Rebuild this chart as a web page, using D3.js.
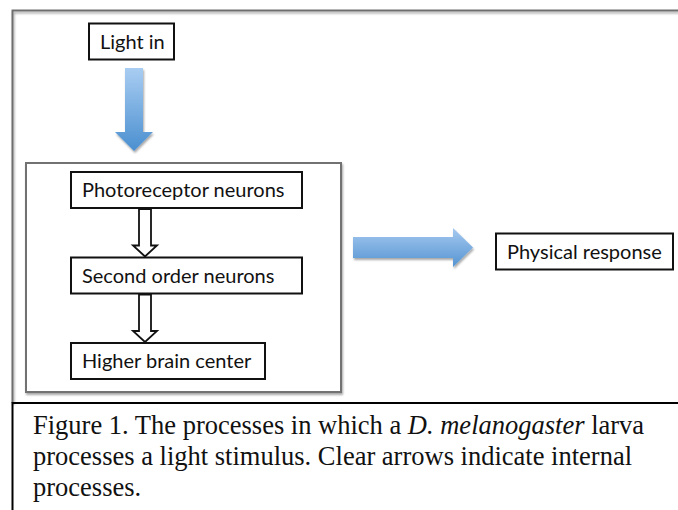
<!DOCTYPE html>
<html>
<head>
<meta charset="utf-8">
<script src="https://cdn.jsdelivr.net/npm/d3@7"></script>
<style>
  body { margin: 0; background: #fff; }
  svg { display: block; }
</style>
</head>
<body>
<svg></svg>
<script>
// Light processing flow diagram (D3 v7)

// ---- Data ----
const inputLabel = "Light in";
const stages = ["Photoreceptor neurons", "Second order neurons", "Higher brain center"];
const outputLabel = "Physical response";
const captionLines = [
  [{ t: "Figure 1. The processes in which a " }, { t: "D. melanogaster", i: true }, { t: " larva" }],
  [{ t: "processes a light stimulus. Clear arrows indicate internal" }],
  [{ t: "processes." }]
];

const width = 678;
const height = 510;

const svg = d3.select("svg").attr("width", width).attr("height", height);

const boxFont = "Lato, 'Noto Sans', sans-serif";

// Fit the box font so the widest label matches the original's Calibri width
const probe = svg.append("text")
  .attr("font-family", boxFont).attr("font-size", 20).text(stages[0]);
const probeW = probe.node().getComputedTextLength();
probe.remove();
const boxFontSize = Math.min(20, 20 * 207 / probeW);

// Gradients for the blue arrows
const defs = svg.append("defs");
const grad = defs.append("linearGradient")
  .attr("id", "blueV").attr("x1", 0).attr("y1", 0).attr("x2", 0).attr("y2", 1);
grad.append("stop").attr("offset", "0%").attr("stop-color", "#a9cdf2");
grad.append("stop").attr("offset", "100%").attr("stop-color", "#4a8fd0");

const gradH = defs.append("linearGradient")
  .attr("id", "blueH").attr("x1", 0).attr("y1", 0).attr("x2", 0).attr("y2", 1);
gradH.append("stop").attr("offset", "0%").attr("stop-color", "#a5c9f0");
gradH.append("stop").attr("offset", "100%").attr("stop-color", "#5594d2");

const shadow = defs.append("filter").attr("id", "soft")
  .attr("x", "-10%").attr("y", "-10%").attr("width", "130%").attr("height", "130%");
shadow.append("feGaussianBlur").attr("in", "SourceAlpha").attr("stdDeviation", 1.2);
shadow.append("feOffset").attr("dx", 1).attr("dy", 1.5).attr("result", "b");
shadow.append("feComponentTransfer").append("feFuncA").attr("type", "linear").attr("slope", 0.35);
const merge = shadow.append("feMerge");
merge.append("feMergeNode");
merge.append("feMergeNode").attr("in", "SourceGraphic");

// ---- Outer frame (open on right) ----
svg.append("path")
  .attr("d", `M${width},10.5 H12.5 V403`)
  .attr("fill", "none")
  .attr("stroke", "#6e6e6e")
  .attr("stroke-width", 2)
  .attr("filter", "url(#soft)");

// ---- Inner box around the neuron stages ----
svg.append("rect")
  .attr("x", 26).attr("y", 163)
  .attr("width", 315).attr("height", 229)
  .attr("fill", "#fff")
  .attr("stroke", "#727272")
  .attr("stroke-width", 2)
  .attr("filter", "url(#soft)");

// Labelled box helper
function labelBox(x, y, w, h, text) {
  const g = svg.append("g");
  g.append("rect")
    .attr("x", x).attr("y", y).attr("width", w).attr("height", h)
    .attr("fill", "#fff").attr("stroke", "#111").attr("stroke-width", 2);
  g.append("text")
    .attr("x", x + 11).attr("y", y + h / 2 + 7)
    .attr("font-family", boxFont)
    .attr("font-size", boxFontSize)
    .attr("fill", "#111")
    .text(text);
  return g;
}

// Light in
labelBox(89, 23.5, 85, 36, inputLabel);

// Blue down arrow
function blueDown(cx, y0, y1) {
  const sw = 9, hw = 19, hh = 19;
  svg.append("path")
    .attr("d", `M${cx - sw},${y0} H${cx + sw} V${y1 - hh} H${cx + hw} L${cx},${y1} L${cx - hw},${y1 - hh} H${cx - sw} Z`)
    .attr("fill", "url(#blueV)")
    .attr("filter", "url(#soft)");
}
blueDown(134, 68, 151);

// Stages
const yStage = d3.scaleLinear().domain([0, stages.length - 1]).range([172, 343]);
const stageW = [231, 231, 194];
const stageH = 36;
stages.forEach((s, i) => labelBox(71, yStage(i), stageW[i], stageH, s));

// Clear arrows between stages
function clearDown(cx, y0, y1) {
  const sw = 6, hw = 12, hh = 11;
  svg.append("path")
    .attr("d", `M${cx - sw},${y0} H${cx + sw} V${y1 - hh} H${cx + hw} L${cx},${y1} L${cx - hw},${y1 - hh} H${cx - sw} Z`)
    .attr("fill", "#fff")
    .attr("stroke", "#111")
    .attr("stroke-width", 1.8)
    .attr("stroke-linejoin", "miter");
}
d3.range(stages.length - 1).forEach((i) => {
  clearDown(145, yStage(i) + stageH + 1, yStage(i + 1) - 1);
});

// Blue right arrow
function blueRight(x0, x1, cy) {
  const sh = 10.5, hh = 19.5, hw = 20;
  svg.append("path")
    .attr("d", `M${x0},${cy - sh} H${x1 - hw} V${cy - hh} L${x1},${cy} L${x1 - hw},${cy + hh} V${cy + sh} H${x0} Z`)
    .attr("fill", "url(#blueH)")
    .attr("filter", "url(#soft)");
}
blueRight(353, 473, 247.5);

// Physical response
labelBox(496, 233.5, 177, 36, outputLabel);

// ---- Caption box ----
svg.append("path")
  .attr("d", `M${width},403 H12.5 V${height}`)
  .attr("fill", "none")
  .attr("stroke", "#000")
  .attr("stroke-width", 2);

const cap = svg.append("text")
  .attr("font-family", "'Liberation Serif', 'Times New Roman', serif")
  .attr("font-size", 26.5)
  .attr("fill", "#111");

captionLines.forEach((line, i) => {
  const t = cap.append("tspan").attr("x", 33).attr("y", 434 + i * 31);
  line.forEach((seg, j) => {
    const sp = j === 0 ? t : cap.append("tspan");
    sp.attr("font-style", seg.i ? "italic" : null).text(seg.t);
  });
});
</script>
</body>
</html>
